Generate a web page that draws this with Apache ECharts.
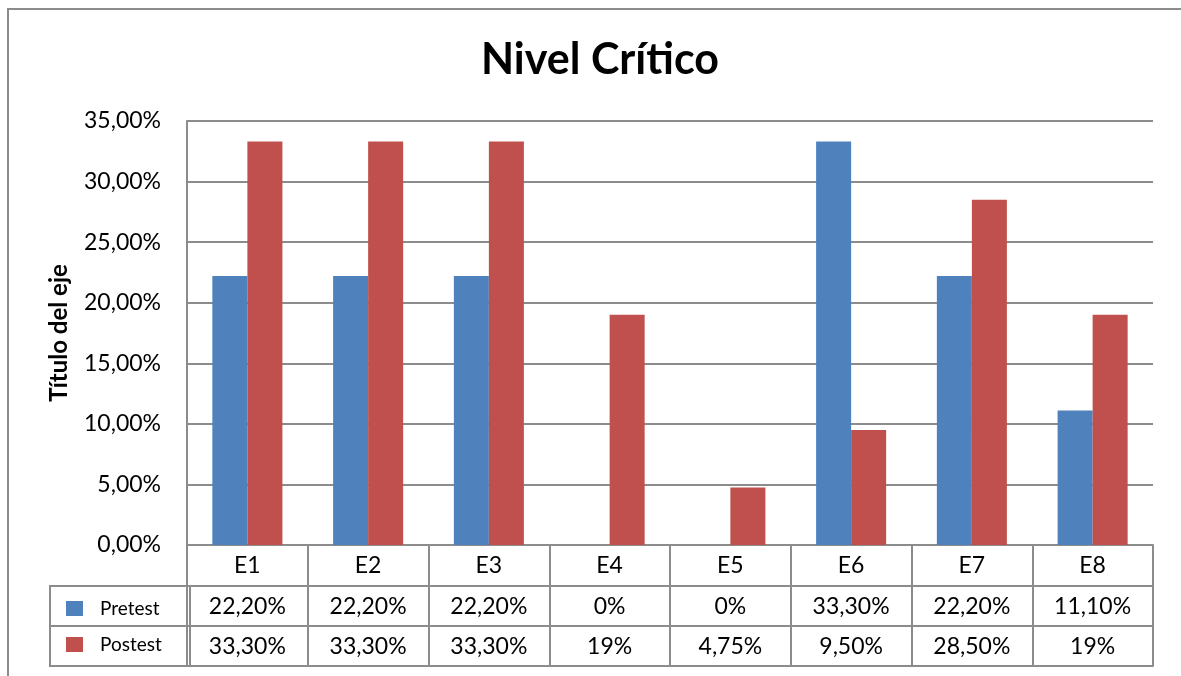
<!DOCTYPE html>
<html>
<head>
<meta charset="utf-8">
<script src="https://cdn.jsdelivr.net/npm/echarts@6/dist/echarts.min.js"></script>
<style>
html,body{margin:0;padding:0;background:#fff;}
#J_Main{width:1181px;height:676px;}
</style>
</head>
<body>
<div id="J_Main"></div>
<script>
// datos del gráfico
var categories = ["E1", "E2", "E3", "E4", "E5", "E6", "E7", "E8"];
var pretestValues = [22.2, 22.2, 22.2, 0, 0, 33.3, 22.2, 11.1];
var postestValues = [33.3, 33.3, 33.3, 19, 4.75, 9.5, 28.5, 19];
// textos de la tabla de datos, tal como aparecen
var pretestLabels = ["22,20%", "22,20%", "22,20%", "0%", "0%", "33,30%", "22,20%", "11,10%"];
var postestLabels = ["33,30%", "33,30%", "33,30%", "19%", "4,75%", "9,50%", "28,50%", "19%"];

var FONT = "Lato, 'Liberation Sans', sans-serif";
var GRAY = "#8c8c8c";

var myChart = echarts.init(document.getElementById("J_Main"));

function tableAxis(data, offset, showLabel) {
    return {
        type: "category",
        data: data,
        position: "bottom",
        offset: offset,
        axisLine: {show: true, lineStyle: {color: GRAY, width: 2}},
        axisTick: {show: false},
        axisLabel: {show: showLabel, color: "#000", fontSize: 23, fontFamily: FONT, margin: 9, interval: 0},
        splitLine: {show: false}
    };
}

var option = {
    animation: false,
    backgroundColor: "#fff",
    textStyle: {fontFamily: FONT},
    title: {
        text: "Nivel Crítico",
        left: 595,
        textAlign: "center",
        top: 34,
        textStyle: {fontSize: 43, fontWeight: "bold", color: "#000", fontFamily: FONT}
    },
    legend: {
        orient: "vertical",
        left: 61,
        top: 594,
        itemWidth: 17,
        itemHeight: 15,
        itemGap: 17,
        icon: "rect",
        textStyle: {fontSize: 19, color: "#000", fontFamily: FONT, padding: [0, 0, 0, 12]},
        data: ["Pretest", "Postest"]
    },
    grid: {left: 187, right: 28, top: 121, bottom: 131},
    xAxis: [
        {
            type: "category",
            data: categories,
            position: "bottom",
            axisLine: {show: true, lineStyle: {color: GRAY, width: 2}},
            axisTick: {show: true, length: 121, lineStyle: {color: GRAY, width: 2}},
            axisLabel: {color: "#000", fontSize: 23, fontFamily: FONT, margin: 9, interval: 0},
            splitLine: {show: false}
        },
        tableAxis(pretestLabels, 41, true),
        tableAxis(postestLabels, 81, true),
        tableAxis(categories, 121, false)
    ],
    yAxis: {
        type: "value",
        min: 0,
        max: 35,
        interval: 5,
        name: "Título del eje",
        nameLocation: "middle",
        nameGap: 116,
        nameTextStyle: {fontSize: 24, fontWeight: "bold", color: "#000", fontFamily: FONT},
        axisLine: {show: true, lineStyle: {color: GRAY, width: 2}},
        axisTick: {show: false},
        axisLabel: {
            color: "#000", fontSize: 23, fontFamily: FONT, margin: 26,
            formatter: function (v) { return v.toFixed(2).replace(".", ",") + "%"; }
        },
        splitLine: {show: true, lineStyle: {color: GRAY, width: 2}}
    },
    series: [
        {
            name: "Pretest",
            type: "bar",
            xAxisIndex: 0,
            data: pretestValues,
            barGap: "0%",
            barCategoryGap: "42%",
            itemStyle: {color: "#4f81bd"}
        },
        {
            name: "Postest",
            type: "bar",
            xAxisIndex: 0,
            data: postestValues,
            itemStyle: {color: "#c0504d"}
        }
    ],
    graphic: [
        {
            type: "rect",
            shape: {x: 8, y: 9, width: 1200, height: 700},
            style: {fill: "none", stroke: GRAY, lineWidth: 2},
            silent: true
        },
        {
            type: "rect",
            shape: {x: 50, y: 586, width: 140, height: 80},
            style: {fill: "none", stroke: GRAY, lineWidth: 2},
            silent: true
        },
        {
            type: "line",
            shape: {x1: 50, y1: 626, x2: 190, y2: 626},
            style: {stroke: GRAY, lineWidth: 2},
            silent: true
        }
    ]
};

myChart.setOption(option);
</script>
</body>
</html>
